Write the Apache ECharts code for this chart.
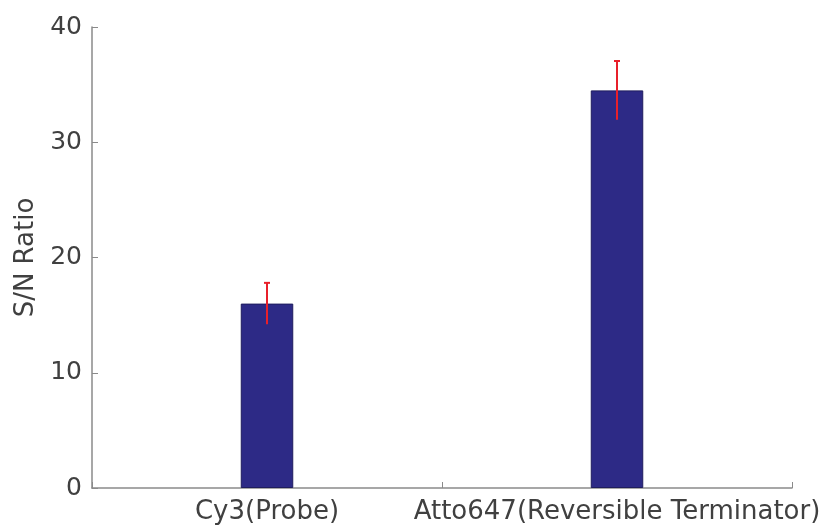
<!DOCTYPE html>
<html>
<head>
<meta charset="utf-8">
<script src="https://cdn.jsdelivr.net/npm/echarts@6/dist/echarts.min.js"></script>
<style>
  html, body { margin: 0; padding: 0; background: #fff; }
  #chart { width: 829px; height: 530px; }
</style>
</head>
<body>
<div id="chart"></div>
<script>
// Dye categories and their mean signal-to-noise ratios with error (± half-range)
const categories = ['Cy3(Probe)', 'Atto647(Reversible Terminator)'];
const snrMean = [16.0, 34.5];
const snrError = [1.8, 2.55];
const yTicks = [0, 10, 20, 30, 40];

const chart = echarts.init(document.getElementById('chart'));

const errorData = categories.map((c, i) => [i, snrMean[i] - snrError[i], snrMean[i] + snrError[i]]);

chart.setOption({
  animation: false,
  textStyle: { fontFamily: 'DejaVu Sans, sans-serif' },
  grid: { left: 92, right: 37, top: 27, bottom: 42 },
  xAxis: {
    type: 'category',
    data: categories,
    boundaryGap: true,
    axisLine: { lineStyle: { color: '#8a8a8a', width: 1.5 } },
    axisTick: { show: true, alignWithLabel: false, inside: true, length: 6, lineStyle: { color: '#8a8a8a' } },
    axisLabel: { color: '#404040', fontSize: 26, margin: 11, interval: 0, hideOverlap: false }
  },
  yAxis: {
    type: 'value',
    min: yTicks[0],
    max: yTicks[yTicks.length - 1],
    interval: 10,
    name: 'S/N Ratio',
    nameLocation: 'middle',
    nameGap: 49,
    nameTextStyle: { color: '#404040', fontSize: 26 },
    axisLine: { show: true, lineStyle: { color: '#8a8a8a', width: 1.5 } },
    axisTick: { show: true, inside: true, length: 6, lineStyle: { color: '#8a8a8a' } },
    splitLine: { show: false },
    axisLabel: { color: '#404040', fontSize: 25, margin: 10 }
  },
  series: [
    {
      type: 'bar',
      data: snrMean,
      barWidth: '15%',
      itemStyle: { color: '#2d2a86', borderColor: '#1f1d5e', borderWidth: 1 }
    },
    {
      type: 'custom',
      data: errorData,
      z: 10,
      renderItem: function (params, api) {
        const x = api.value(0);
        const low = api.coord([x, api.value(1)]);
        const high = api.coord([x, api.value(2)]);
        const cap = 3;
        const style = { stroke: '#e8202a', lineWidth: 2 };
        return {
          type: 'group',
          children: [
            { type: 'line', shape: { x1: high[0], y1: high[1], x2: low[0], y2: low[1] }, style: style },
            { type: 'line', shape: { x1: high[0] - cap, y1: high[1], x2: high[0] + cap, y2: high[1] }, style: style }
          ]
        };
      }
    }
  ]
});
</script>
</body>
</html>
